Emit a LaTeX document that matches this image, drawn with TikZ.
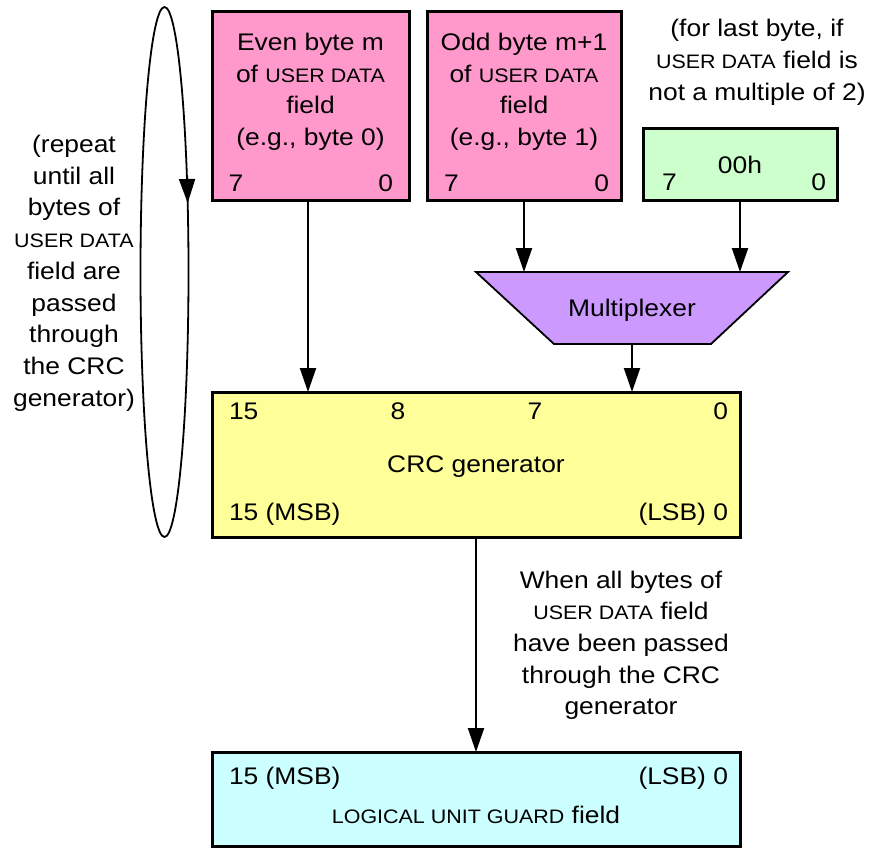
\documentclass[tikz,border=0pt]{standalone}
\usepackage{fontspec}
\setmainfont{Liberation Sans}[FakeStretch=1.1]
\usetikzlibrary{arrows.meta}
\definecolor{pinkc}{HTML}{FF99CC}
\definecolor{greenc}{HTML}{CCFFCC}
\definecolor{purplec}{HTML}{CC99FF}
\definecolor{yellowc}{HTML}{FFFF99}
\definecolor{cyanc}{HTML}{CCFFFF}
\newcommand\mlines[1]{\begin{tabular}[t]{@{}c@{}}#1\end{tabular}}
\newcommand\smc[1]{{\fontsize{19.5}{31.7}\selectfont #1}}
\begin{document}
\begin{tikzpicture}[x=1pt, y=-1pt,
  box/.style={draw, line width=3pt, inner sep=0pt, outer sep=0pt},
  txt/.style={inner sep=0pt, outer sep=0pt, font=\fontsize{24}{31.7}\selectfont},
  arr/.style={line width=2pt, -{Triangle[length=24pt,width=16pt]}}]
\useasboundingbox (0,0) rectangle (869,848);

% boxes
\node[box, fill=pinkc, minimum width=197pt, minimum height=188pt] (even) at (310.5,106) {};
\node[box, fill=pinkc, minimum width=194pt, minimum height=188pt] (odd) at (524,106) {};
\node[box, fill=greenc, minimum width=194pt, minimum height=72pt] (zero) at (740,164) {};
\node[box, fill=yellowc, minimum width=528pt, minimum height=145pt] (crc) at (476,464.5) {};
\node[box, fill=cyanc, minimum width=528pt, minimum height=94pt] (lug) at (476,799) {};

% multiplexer
\draw[line width=1.8pt, fill=purplec] (476,272) -- (788,272) -- (711,344) -- (554,344) -- cycle;
\coordinate (muxinL) at (524,272);
\coordinate (muxinR) at (740,272);
\coordinate (muxout) at (632,344);
\node[txt, anchor=base] (mux) at (632,316.7) {Multiplexer};

% loop ellipse
\draw[line width=1.8pt] (164.5,272) ellipse [x radius=24, y radius=265];
\coordinate (looptail) at (187,176);
\coordinate (looptip) at (187.7,203);
\draw[arr] (looptail) -- (looptip);

% arrows
\draw[arr] ([xshift=-2.5pt]even.south) -- ([xshift=-2.5pt]even.south |- crc.north);
\draw[arr] (odd.south) -- (muxinL);
\draw[arr] (zero.south) -- (muxinR);
\draw[arr] (muxout) -- (muxout |- crc.north);
\draw[arr] (crc.south) -- (lug.north);

% texts in top boxes
\node[txt, anchor=base] (evtxt) at (310.5,50.5) {\mlines{Even byte m\\of \smc{USER DATA}\\field\\(e.g., byte 0)}};
\node[txt, anchor=base west] (ev7) at (228.5,191.5) {7};
\node[txt, anchor=base east] (ev0) at (393,191.5) {0};
\node[txt, anchor=base] (odtxt) at (524,50.5) {\mlines{Odd byte m+1\\of \smc{USER DATA}\\field\\(e.g., byte 1)}};
\node[txt, anchor=base west] (od7) at (444,191) {7};
\node[txt, anchor=base east] (od0) at (609,191) {0};
\node[txt, anchor=base] (note) at (757,37) {\mlines{(for last byte, if\\\smc{USER DATA} field is\\not a multiple of 2)}};
\node[txt, anchor=base] (zh) at (740,173) {00h};
\node[txt, anchor=base west] (z7) at (662,190) {7};
\node[txt, anchor=base east] (z0) at (826,190) {0};

% CRC generator texts
\node[txt, anchor=base west] (c15) at (229,419) {15};
\node[txt, anchor=base] (c8) at (398,419) {8};
\node[txt, anchor=base] (c7) at (535,419) {7};
\node[txt, anchor=base east] (c0) at (728,419) {0};
\node[txt, anchor=base] (cname) at (476,472) {CRC generator};
\node[txt, anchor=base west] (cmsb) at (229,520) {15 (MSB)};
\node[txt, anchor=base east] (clsb) at (728,520) {(LSB) 0};

% logical unit guard texts
\node[txt, anchor=base west] (lmsb) at (229,784) {15 (MSB)};
\node[txt, anchor=base east] (llsb) at (728,784) {(LSB) 0};
\node[txt, anchor=base] (lname) at (476,823) {\smc{LOGICAL UNIT GUARD} field};

% annotations
\node[txt, anchor=base] (when) at (621,588) {\mlines{When all bytes of\\\smc{USER DATA} field\\have been passed\\through the CRC\\generator}};
\node[txt, anchor=base] (rep) at (74,152.5) {\mlines{(repeat\\until all\\bytes of\\\smc{USER DATA}\\field are\\passed\\through\\the CRC\\generator)}};
\end{tikzpicture}
\end{document}
